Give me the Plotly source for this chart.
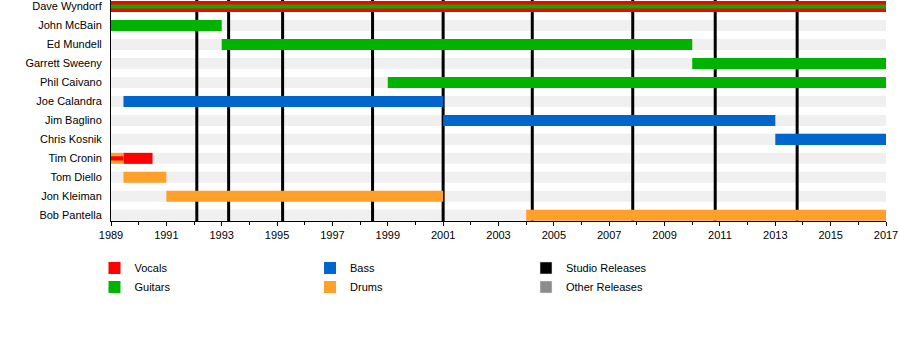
import plotly.graph_objects as go

members = ["Dave Wyndorf", "John McBain", "Ed Mundell", "Garrett Sweeny", "Phil Caivano",
           "Joe Calandra", "Jim Baglino", "Chris Kosnik", "Tim Cronin", "Tom Diello",
           "Jon Kleiman", "Bob Pantella"]

# (member, start, end)
vocals = [("Dave Wyndorf", 1989.0, 2017.0), ("Tim Cronin", 1989.45, 1990.5)]
guitars = [("John McBain", 1989.0, 1993.0), ("Ed Mundell", 1993.0, 2010.0),
           ("Garrett Sweeny", 2010.0, 2017.0), ("Phil Caivano", 1999.0, 2017.0)]
bass = [("Joe Calandra", 1989.45, 2001.0), ("Jim Baglino", 2001.0, 2013.0),
        ("Chris Kosnik", 2013.0, 2017.0)]
drums = [("Tim Cronin", 1989.0, 1989.45), ("Tom Diello", 1989.45, 1991.0),
         ("Jon Kleiman", 1991.0, 2001.0), ("Bob Pantella", 2004.0, 2017.0)]
# secondary roles drawn as thin stripes
guitars_stripe = [("Dave Wyndorf", 1989.0, 2017.0)]
vocals_stripe = [("Tim Cronin", 1989.0, 1989.45)]

studio_releases = [1992.1, 1993.25, 1995.2, 1998.45, 2001.0, 2004.22, 2007.85, 2010.83, 2013.79]
other_releases = []

x_start, x_end = 1989, 2017
tick_years = list(range(1989, 2018, 2))

COL = {"Vocals": "#ff0000", "Guitars": "#00b300", "Bass": "#0066cc", "Drums": "#ffa02a",
       "Studio Releases": "#000000", "Other Releases": "#8c8c8c"}
BAND = "#f0f0f0"
BAR_W = 0.58
STRIPE_W = 0.22
Y_RANGE = [11.30, -0.342]

idx = {m: i for i, m in enumerate(members)}

fig = go.Figure()


def add_bars(segs, name, width, showlegend, legend):
    fig.add_trace(go.Bar(
        orientation="h",
        y=[idx[m] for m, s, e in segs],
        base=[s for m, s, e in segs],
        x=[e - s for m, s, e in segs],
        width=width,
        marker=dict(color=COL[name], line=dict(width=0)),
        name=name, showlegend=showlegend, legend=legend,
        hoverinfo="skip",
    ))


add_bars(vocals, "Vocals", BAR_W, True, "legend")
add_bars(guitars, "Guitars", BAR_W, True, "legend")
add_bars(bass, "Bass", BAR_W, True, "legend2")
add_bars(drums, "Drums", BAR_W, True, "legend2")
add_bars(guitars_stripe, "Guitars", STRIPE_W, False, "legend")
add_bars(vocals_stripe, "Vocals", STRIPE_W, False, "legend")

# legend-only entries for releases
for name in ["Studio Releases", "Other Releases"]:
    fig.add_trace(go.Bar(orientation="h", y=[None], x=[None], name=name,
                         marker=dict(color=COL[name]), showlegend=True, legend="legend3"))

# background bands per row
for i, m in enumerate(members):
    fig.add_shape(type="rect", xref="x", yref="y", x0=x_start, x1=x_end,
                  y0=i - BAR_W / 2, y1=i + BAR_W / 2, fillcolor=BAND,
                  line=dict(width=0), layer="below")
# release lines
for yr in studio_releases:
    fig.add_shape(type="line", xref="x", yref="y", x0=yr, x1=yr, y0=Y_RANGE[0], y1=Y_RANGE[1],
                  line=dict(color=COL["Studio Releases"], width=3), layer="below")
for yr in other_releases:
    fig.add_shape(type="line", xref="x", yref="y", x0=yr, x1=yr, y0=Y_RANGE[0], y1=Y_RANGE[1],
                  line=dict(color=COL["Other Releases"], width=3), layer="below")

leg_common = dict(orientation="v", xanchor="left", yanchor="top", font=dict(size=11),
                  itemwidth=30, bgcolor="rgba(0,0,0,0)", traceorder="normal")
LEG_Y = -0.147

fig.update_layout(
    width=900, height=340,
    margin=dict(l=111, r=14, t=0, b=119),
    barmode="overlay",
    plot_bgcolor="white", paper_bgcolor="white",
    font=dict(family="Liberation Sans, Arial, sans-serif", size=11, color="#000000"),
    xaxis=dict(range=[x_start, x_end], tickvals=tick_years, ticks="outside", ticklen=4,
               tickwidth=1, tickcolor="black", showline=True, linecolor="black",
               linewidth=1, showgrid=False, zeroline=False,
               minor=dict(dtick=1, ticks="outside", ticklen=3, tickcolor="black",
                          showgrid=False)),
    yaxis=dict(range=Y_RANGE, tickvals=list(range(len(members))), ticktext=members,
               showline=True, linecolor="black", linewidth=1, showgrid=False,
               zeroline=False, ticks="", ticklabelstandoff=6),
    legend=dict(x=-0.0213, y=LEG_Y, **leg_common),
    legend2=dict(x=0.2568, y=LEG_Y, **leg_common),
    legend3=dict(x=0.5355, y=LEG_Y, **leg_common),
    showlegend=True,
)

fig.write_html("out.html")
